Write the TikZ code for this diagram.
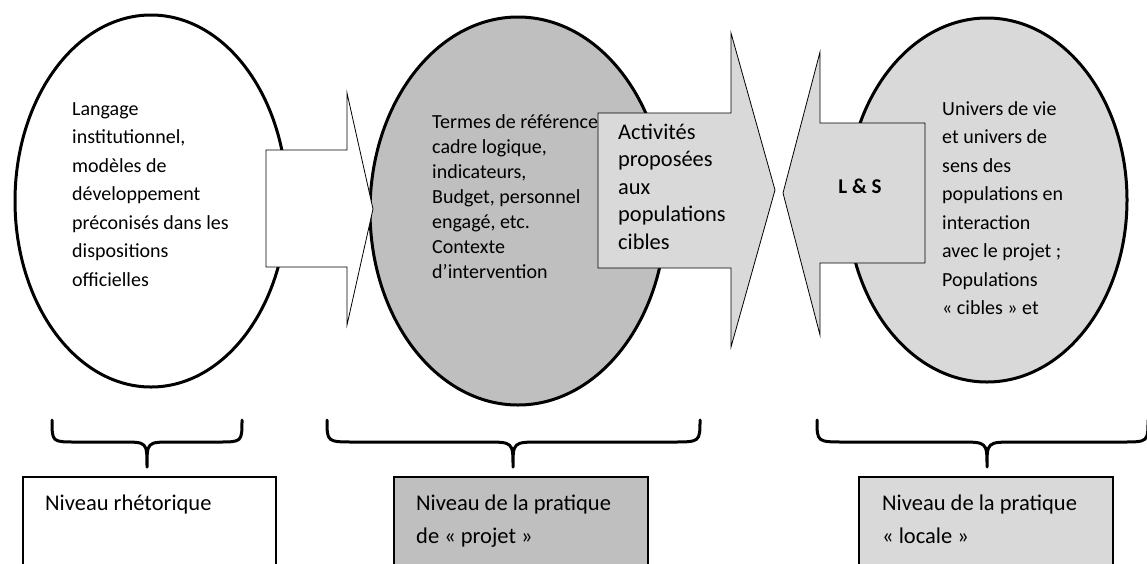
\documentclass[tikz,border=0pt]{standalone}
\usepackage{fontspec}
\setmainfont{Carlito}
\usetikzlibrary{shapes.geometric}
\definecolor{midgray}{RGB}{191,191,191}
\definecolor{lightgray2}{RGB}{217,217,217}
\newcommand{\fstrut}{\rule{0pt}{18pt}}
\begin{document}
\begin{tikzpicture}[x=1pt,y=-1pt,
  ell/.style={ellipse, draw=black, line width=3pt, inner sep=0pt},
  arr/.style={draw=black, line width=0.8pt, line join=miter},
  txt/.style={anchor=north west, align=left, inner sep=0pt, font=\fontsize{20}{28.5}\selectfont},
  txtb/.style={anchor=north west, align=left, inner sep=0pt, font=\fontsize{22.5}{33}\selectfont},
  brace/.style={draw=black, line width=3pt, line cap=round, line join=round},
  boxx/.style={draw=black, line width=2.5pt}]
\useasboundingbox (0,0) rectangle (1147,563);

% ellipses
\node[ell, fill=white, minimum width=272pt, minimum height=372pt] (e1) at (151,201) {};
\node[ell, fill=midgray, minimum width=296pt, minimum height=388pt] (e2) at (518,211) {};
\node[ell, fill=lightgray2, minimum width=280pt, minimum height=364pt] (e3) at (987,200) {};

% text of ellipse 1 (first baseline at y=115)
\node[txt] (t1) at (72,97) {\fstrut Langage\\institutionnel,\\modèles de\\développement\\préconisés dans les\\dispositions\\officielles};

% text of ellipse 2 (first baseline at y=128)
\node[txt, font=\fontsize{20}{25}\selectfont] (t2) at (432,110) {\fstrut Termes de référence\\cadre logique,\\indicateurs,\\Budget, personnel\\engagé, etc.\\Contexte\\d’intervention};

% arrow 1 (white)
\draw[arr, fill=white] (266,150) -- (347,150) -- (347,93) -- (373,209) -- (347,325) -- (347,267) -- (266,267) -- cycle;

% arrow 2 (light gray, to the right)
\draw[arr, fill=lightgray2] (598,113) -- (731,113) -- (731,33) -- (775,190) -- (731,347) -- (731,268) -- (598,268) -- cycle;
\node[txt, font=\fontsize{22.4}{27.5}\selectfont] (t3) at (618,121) {\fstrut Activités\\proposées\\aux\\populations\\cibles};

% arrow 3 (light gray, to the left)
\draw[arr, fill=lightgray2] (925,123) -- (820,123) -- (820,52) -- (783,193) -- (820,335) -- (820,263) -- (925,263) -- cycle;
\node[anchor=base, inner sep=0pt, font=\fontsize{21}{25}\selectfont\bfseries] (ls) at (860,193) {L \& S};

% text of ellipse 3 (first baseline at y=115)
\node[txt] (t4) at (942,97) {\fstrut Univers de vie\\et univers de\\sens des\\populations en\\interaction\\avec le projet ;\\Populations\\« cibles » et};

% braces
\draw[brace] (52,420) .. controls (52,442) .. (76,442) -- (122,442) .. controls (147,442) .. (147,467)
             .. controls (147,442) .. (172,442) -- (218,442) .. controls (242,442) .. (242,420);
\draw[brace] (327,420) .. controls (327,442) .. (355,442) -- (485,442) .. controls (513,442) .. (513,467)
             .. controls (513,442) .. (541,442) -- (672,442) .. controls (700,442) .. (700,420);
\draw[brace] (817,420) .. controls (817,442) .. (845,442) -- (959,442) .. controls (987,442) .. (987,467)
             .. controls (987,442) .. (1015,442) -- (1122,442) .. controls (1148,442) .. (1148,420);

% level boxes
\draw[boxx, fill=white] (23,477) rectangle (276,600);
\draw[boxx, fill=midgray] (394,477) rectangle (648,600);
\draw[boxx, fill=lightgray2] (859,477) rectangle (1113,600);
\node[txtb] (n1) at (45,492) {\fstrut Niveau rhétorique};
\node[txtb] (n2) at (416,492) {\fstrut Niveau de la pratique\\de « projet »};
\node[txtb] (n3) at (882,492) {\fstrut Niveau de la pratique\\« locale »};
\end{tikzpicture}
\end{document}
